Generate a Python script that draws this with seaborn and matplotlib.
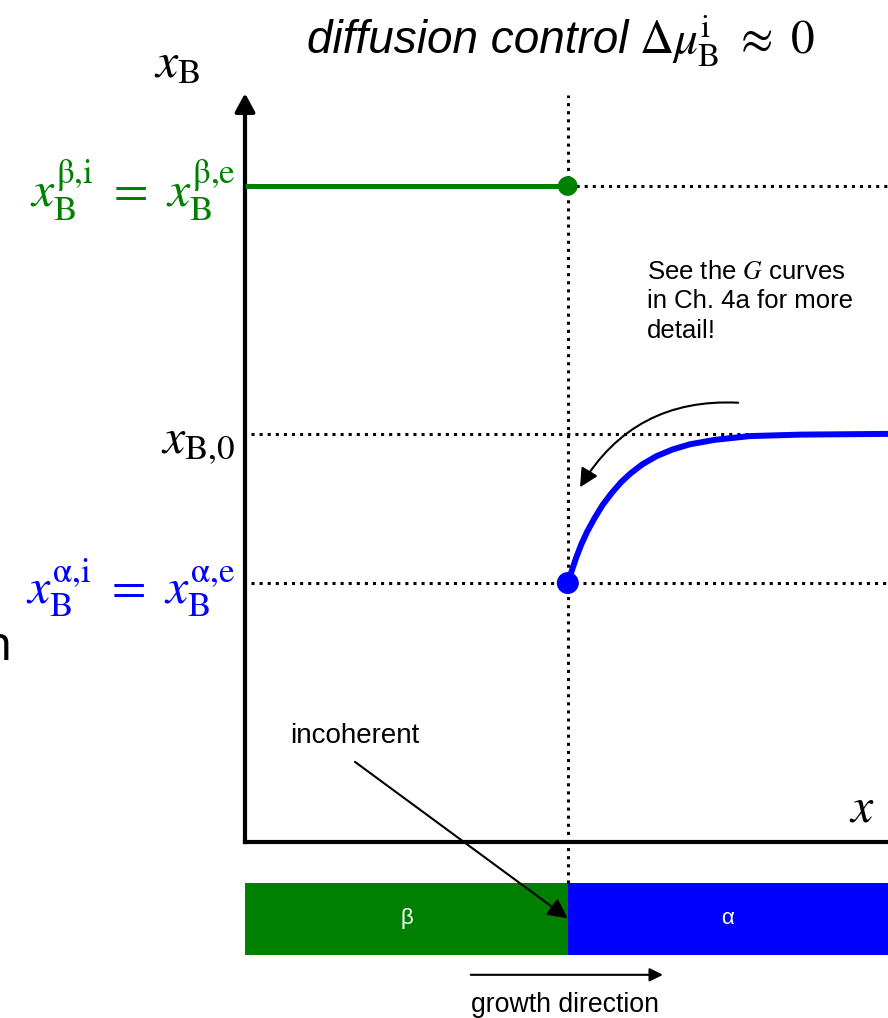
import matplotlib
matplotlib.use("Agg")
import matplotlib.pyplot as plt
import seaborn as sns

# Schematic quantities (axes units: x = position, y = mole fraction of B)
interface_x = 0.502          # position of the beta/alpha interface
beta_level = 0.884           # x_B^{beta,i} = x_B^{beta,e}
bulk_level = 0.55            # x_B,0 far from the interface
alpha_level = 0.349          # x_B^{alpha,i} = x_B^{alpha,e}

# Concentration profile in the alpha phase ahead of the interface
profile_x = [0.502, 0.508, 0.515, 0.523, 0.532, 0.544, 0.556, 0.570,
             0.585, 0.600, 0.618, 0.640, 0.665, 0.692, 0.731, 0.785,
             0.863, 1.0]
profile_y = [0.349, 0.365, 0.383, 0.401, 0.418, 0.437, 0.454, 0.470,
             0.485, 0.497, 0.509, 0.520, 0.529, 0.536, 0.542, 0.547,
             0.549, 0.550]

phase_names = ["β", "α"]
GREEN = "#008000"
BLUE = "#0000FF"

sns.set_theme(style="white")
plt.rcParams["font.family"] = ["Liberation Sans", "DejaVu Sans"]
plt.rcParams["mathtext.fontset"] = "stix"
plt.rcParams["text.color"] = "black"

fig = plt.figure(figsize=(8.88, 10.18), dpi=100)

# phase bar (drawn first so the main axes' annotations sit on top)
axb = fig.add_axes([0.2759, 0.0619, 0.7241, 0.0707])
axb.barh([0], [interface_x], left=[0], height=1, color=GREEN,
         edgecolor="none", linewidth=0)
axb.barh([0], [1 - interface_x], left=[interface_x], height=1, color=BLUE,
         edgecolor="none", linewidth=0)
axb.set_xlim(0, 1)
axb.set_ylim(-0.5, 0.5)
axb.axis("off")
axb.text(interface_x / 2, 0, phase_names[0], color="white", ha="center",
         va="center", fontsize=16)
axb.text((1 + interface_x) / 2, 0, phase_names[1], color="white",
         ha="center", va="center", fontsize=16)

ax = fig.add_axes([0.2759, 0.1729, 0.7241, 0.7289])
ax.set_zorder(3)
ax.set_xlim(0, 1)
ax.set_ylim(0, 1)
ax.set_xticks([])
ax.set_yticks([])
for side in ("top", "right"):
    ax.spines[side].set_visible(False)
for side in ("left", "bottom"):
    ax.spines[side].set_linewidth(3)
    ax.spines[side].set_color("black")
ax.patch.set_alpha(0)

# y-axis arrowhead
ax.annotate("", xy=(0, 1.009), xytext=(0, 0.98),
            arrowprops=dict(arrowstyle="-|>,head_length=0.55,head_width=0.3",
                            lw=3, color="black", mutation_scale=20,
                            shrinkA=0, shrinkB=0),
            annotation_clip=False)

dot_kw = dict(ls=":", lw=2.2, color="black", clip_on=False, zorder=2)
# interface marker line
ax.plot([interface_x, interface_x], [-0.055, 1.007], **dot_kw)
# guide lines
ax.plot([interface_x, 1.0], [beta_level, beta_level], **dot_kw)
ax.plot([0.01, 1.0], [bulk_level, bulk_level], **dot_kw)
ax.plot([0.01, 1.0], [alpha_level, alpha_level], **dot_kw)

# beta composition
ax.plot([0, interface_x], [beta_level, beta_level], color=GREEN, lw=3.6,
        solid_capstyle="butt", zorder=3)
# alpha profile
sns.lineplot(x=profile_x, y=profile_y, ax=ax, color=BLUE, lw=4.3,
             zorder=3, clip_on=False)
sns.scatterplot(x=[interface_x], y=[beta_level], ax=ax, color=GREEN,
                s=200, edgecolor="none", zorder=4, clip_on=False)
sns.scatterplot(x=[interface_x], y=[alpha_level], ax=ax, color=BLUE,
                s=250, edgecolor="none", zorder=4, clip_on=False)

# level labels
lab_kw = dict(xycoords="data", textcoords="offset points", ha="right",
              va="baseline", fontsize=36, annotation_clip=False)
ax.annotate(r"$x_\mathrm{B}^{\mathrm{β{,}i}}\ =\ x_\mathrm{B}^{\mathrm{β{,}e}}$",
            xy=(0, beta_level), xytext=(-7, -15.5), color=GREEN, **lab_kw)
ax.annotate(r"$x_{\mathrm{B{,}0}}$", xy=(0, bulk_level), xytext=(-7, -14),
            color="black", **lab_kw)
ax.annotate(r"$x_\mathrm{B}^{\mathrm{α{,}i}}\ =\ x_\mathrm{B}^{\mathrm{α{,}e}}$",
            xy=(0, alpha_level), xytext=(-7, -14.5), color=BLUE, **lab_kw)

# axis names
ax.text(-0.106, 1.030, r"$x_\mathrm{B}$", ha="center", va="baseline",
        fontsize=36, clip_on=False)
ax.text(0.96, 0.027, r"$x$", ha="center", va="baseline", fontsize=36,
        clip_on=False)

# title
fig.text(628 / 888, 1 - 53 / 1018, "diffusion control",
         ha="right", va="baseline", fontsize=33, fontstyle="italic")
fig.text(639 / 888, 1 - 54 / 1018,
         r"$\Delta\mu_\mathrm{B}^\mathrm{i}\ \approx\ 0$",
         ha="left", va="baseline", fontsize=34)

# note about Gibbs energy curves
ax.text(0.625, 0.785, "See the $G$ curves\nin Ch. 4a for more\ndetail!",
        ha="left", va="top", fontsize=18.5, linespacing=1.3)
ax.annotate("", xy=(0.521, 0.478), xytext=(0.767, 0.592),
            arrowprops=dict(arrowstyle="-|>", lw=1.5, color="black",
                            mutation_scale=28, shrinkA=0, shrinkB=0,
                            connectionstyle="arc3,rad=0.3"))

# incoherent interface note
ax.text(0.171, 0.143, "incoherent", ha="center", va="center", fontsize=20,
        clip_on=False)
ax.annotate("", xy=(0.502, -0.103), xytext=(0.171, 0.108),
            arrowprops=dict(arrowstyle="-|>", lw=1.5, color="black",
                            mutation_scale=30, shrinkA=0, shrinkB=0),
            annotation_clip=False)

# growth direction
ax.annotate("", xy=(0.650, -0.179), xytext=(0.351, -0.179),
            arrowprops=dict(arrowstyle="-|>", lw=1.5, color="black",
                            mutation_scale=20, shrinkA=0, shrinkB=0),
            annotation_clip=False)
ax.text(0.498, -0.229, "growth direction", ha="center", va="baseline",
        fontsize=19.2, clip_on=False)

# clipped neighbouring text at the left edge
fig.text(12 / 888, 1 - 660 / 1018, "n", ha="right", va="baseline",
         fontsize=34, family=["Noto Sans", "DejaVu Sans"])

fig.savefig("out.png", dpi=100)
